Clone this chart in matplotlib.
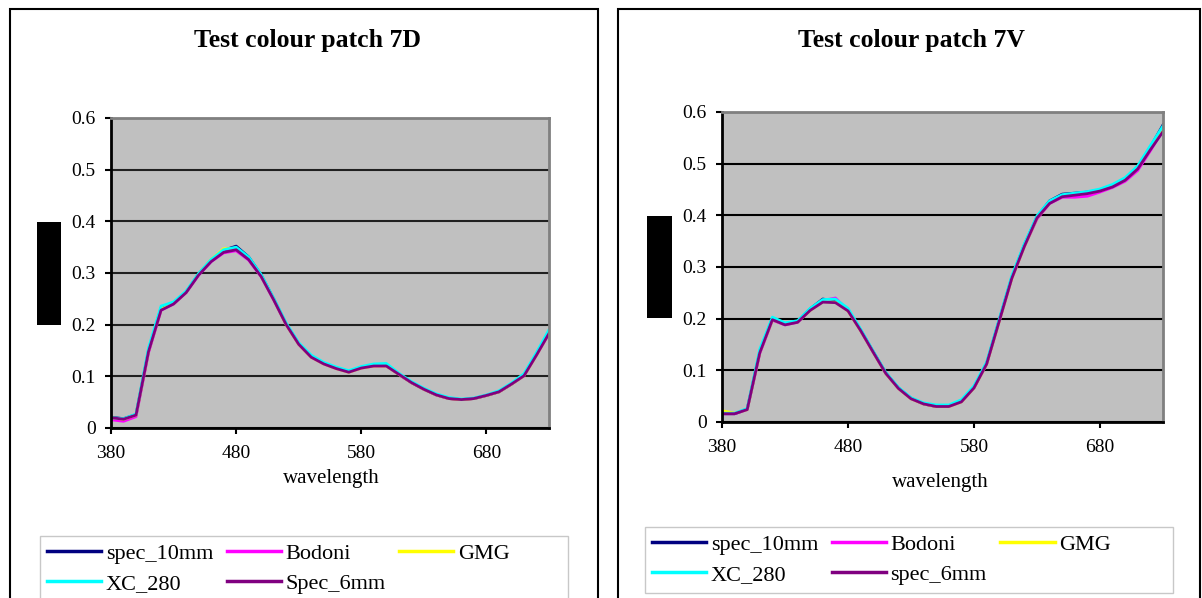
import matplotlib
matplotlib.use("Agg")
import matplotlib.pyplot as plt
from matplotlib.patches import Rectangle

plt.rcParams['font.family'] = ['Liberation Serif', 'DejaVu Serif']

# wavelength categories (nm)
wavelength = list(range(380, 731, 10))
xticks = [380, 480, 580, 680]
yticks = [0, 0.1, 0.2, 0.3, 0.4, 0.5, 0.6]

series_names = ["spec_10mm", "Bodoni", "GMG", "XC_280", "Spec_6mm"]
series_colors = ["#000080", "#FF00FF", "#FFFF00", "#00FFFF", "#800080"]

# --- Test colour patch 7D ---
d_spec10 = [0.021, 0.018, 0.026, 0.150, 0.232, 0.242, 0.263, 0.298, 0.325, 0.344, 0.352, 0.331,
            0.296, 0.250, 0.201, 0.163, 0.138, 0.125, 0.116, 0.109, 0.117, 0.121, 0.121, 0.104,
            0.088, 0.075, 0.064, 0.057, 0.055, 0.057, 0.063, 0.070, 0.085, 0.102, 0.143, 0.186]
d_bodoni = [0.016, 0.013, 0.022, 0.146, 0.228, 0.240, 0.262, 0.296, 0.322, 0.339, 0.343, 0.325,
            0.293, 0.248, 0.200, 0.162, 0.137, 0.124, 0.115, 0.108, 0.116, 0.120, 0.120, 0.104,
            0.088, 0.075, 0.064, 0.057, 0.055, 0.057, 0.063, 0.070, 0.085, 0.101, 0.141, 0.183]
d_gmg = [0.020, 0.017, 0.025, 0.149, 0.230, 0.241, 0.263, 0.298, 0.326, 0.347, 0.348, 0.328,
         0.294, 0.249, 0.200, 0.162, 0.137, 0.124, 0.115, 0.108, 0.116, 0.120, 0.120, 0.104,
         0.088, 0.075, 0.064, 0.057, 0.055, 0.057, 0.063, 0.070, 0.085, 0.101, 0.141, 0.184]
d_xc280 = [0.020, 0.018, 0.027, 0.155, 0.236, 0.244, 0.265, 0.299, 0.326, 0.345, 0.350, 0.331,
           0.297, 0.251, 0.203, 0.165, 0.141, 0.127, 0.118, 0.111, 0.119, 0.124, 0.125, 0.106,
           0.090, 0.077, 0.066, 0.059, 0.056, 0.058, 0.064, 0.072, 0.087, 0.105, 0.146, 0.190]
d_spec6 = [0.020, 0.017, 0.025, 0.148, 0.228, 0.240, 0.262, 0.296, 0.322, 0.340, 0.345, 0.326,
           0.293, 0.248, 0.200, 0.162, 0.137, 0.124, 0.115, 0.108, 0.116, 0.120, 0.120, 0.104,
           0.088, 0.075, 0.064, 0.057, 0.055, 0.057, 0.063, 0.070, 0.085, 0.101, 0.141, 0.183]

# --- Test colour patch 7V ---
v_spec10 = [0.016, 0.016, 0.025, 0.136, 0.200, 0.190, 0.195, 0.219, 0.238, 0.234, 0.217, 0.178,
            0.136, 0.095, 0.066, 0.046, 0.035, 0.030, 0.031, 0.040, 0.067, 0.113, 0.197, 0.280,
            0.343, 0.397, 0.428, 0.441, 0.443, 0.445, 0.449, 0.457, 0.470, 0.493, 0.532, 0.575]
v_bodoni = [0.016, 0.016, 0.024, 0.133, 0.197, 0.188, 0.193, 0.217, 0.235, 0.240, 0.216, 0.177,
            0.135, 0.094, 0.065, 0.045, 0.035, 0.030, 0.030, 0.039, 0.066, 0.112, 0.195, 0.278,
            0.340, 0.393, 0.423, 0.435, 0.435, 0.437, 0.445, 0.454, 0.466, 0.487, 0.525, 0.565]
v_gmg = [0.022, 0.017, 0.024, 0.135, 0.198, 0.189, 0.194, 0.216, 0.233, 0.232, 0.215, 0.177,
         0.135, 0.094, 0.065, 0.045, 0.035, 0.030, 0.030, 0.039, 0.066, 0.112, 0.195, 0.278,
         0.340, 0.395, 0.424, 0.437, 0.440, 0.443, 0.448, 0.456, 0.469, 0.491, 0.529, 0.568]
v_xc280 = [0.017, 0.017, 0.026, 0.141, 0.203, 0.192, 0.196, 0.220, 0.237, 0.238, 0.220, 0.180,
           0.137, 0.096, 0.067, 0.047, 0.037, 0.033, 0.033, 0.043, 0.070, 0.116, 0.199, 0.283,
           0.345, 0.399, 0.428, 0.440, 0.443, 0.446, 0.451, 0.460, 0.473, 0.496, 0.535, 0.573]
v_spec6 = [0.016, 0.016, 0.024, 0.134, 0.198, 0.188, 0.193, 0.216, 0.232, 0.231, 0.215, 0.177,
           0.135, 0.094, 0.065, 0.045, 0.035, 0.030, 0.030, 0.039, 0.066, 0.112, 0.195, 0.278,
           0.340, 0.395, 0.423, 0.436, 0.439, 0.442, 0.447, 0.455, 0.468, 0.490, 0.527, 0.562]

W, H = 1202, 598


def px_box(x0, y0, x1, y1):
    # pixel box (top-left origin) -> figure fraction rect
    return [x0 / W, 1 - y1 / H, (x1 - x0) / W, (y1 - y0) / H]


fig = plt.figure(figsize=(W / 100, H / 100), dpi=100)
fig.patch.set_facecolor("white")

panels = [
    dict(title="Test colour patch 7D", data=[d_spec10, d_bodoni, d_gmg, d_xc280, d_spec6],
         names=["spec_10mm", "Bodoni", "GMG", "XC_280", "Spec_6mm"],
         frame=(10, 9, 598, 640), plot=(111, 118, 549, 428), box=(36.5, 222, 61.5, 325),
         title_xy=(307, 40), xlab_xy=(331, 478), leg=(40, 536, 568, 640), leg_top=543,
         grid="#202020"),
    dict(title="Test colour patch 7V", data=[v_spec10, v_bodoni, v_gmg, v_xc280, v_spec6],
         names=["spec_10mm", "Bodoni", "GMG", "XC_280", "spec_6mm"],
         frame=(618, 9, 1200, 640), plot=(722, 112, 1163, 422), box=(647, 216, 672, 318),
         title_xy=(911, 40), xlab_xy=(940, 482), leg=(645, 527, 1173, 593), leg_top=534,
         grid="black"),
]

for p in panels:
    # outer chart border
    fb = px_box(*p["frame"])
    fig.add_artist(Rectangle(fb[:2], fb[2], fb[3], transform=fig.transFigure,
                             fill=False, edgecolor="black", lw=1.5))
    # black box where the y-axis label was
    b = px_box(*p["box"])
    fig.add_artist(Rectangle(b[:2], b[2], b[3], transform=fig.transFigure,
                             facecolor="black", edgecolor="none"))

    ax = fig.add_axes(px_box(*p["plot"]))
    ax.set_facecolor("#C0C0C0")
    lines = []
    for vals, name, col in zip(p["data"], p["names"], series_colors):
        ln, = ax.plot(wavelength, vals, color=col, lw=2, label=name, solid_joinstyle="round")
        lines.append(ln)

    ax.set_xlim(380, 730)
    ax.set_ylim(0, 0.6)
    ax.set_xticks(xticks)
    ax.set_yticks(yticks)
    ax.set_yticklabels(["0", "0.1", "0.2", "0.3", "0.4", "0.5", "0.6"])
    ax.tick_params(axis="both", labelsize=14, direction="out", length=4, width=1.5, color="black")
    ax.tick_params(axis="x", pad=8)
    ax.tick_params(axis="y", pad=7)
    ax.yaxis.grid(True, color=p["grid"], lw=1.5)
    ax.set_axisbelow(True)
    for s in ["left", "bottom"]:
        ax.spines[s].set_color("black")
        ax.spines[s].set_linewidth(2)
    for s in ["top", "right"]:
        ax.spines[s].set_color("#808080")
        ax.spines[s].set_linewidth(2)

    fig.text(p["title_xy"][0] / W, 1 - p["title_xy"][1] / H, p["title"],
             ha="center", va="center", fontsize=18.5, fontweight="bold")
    fig.text(p["xlab_xy"][0] / W, 1 - p["xlab_xy"][1] / H, "wavelength",
             ha="center", va="center", fontsize=15)

    # legend frame + legend (row-major order like the original)
    lb = px_box(*p["leg"])
    fig.add_artist(Rectangle(lb[:2], lb[2], lb[3], transform=fig.transFigure,
                             fill=False, edgecolor="#c8c8c8", lw=1))
    order = [0, 3, 1, 4, 2]
    leg = fig.legend([lines[i] for i in order], [p["names"][i] for i in order],
                     loc="upper left", bbox_to_anchor=((p["leg"][0] + 7) / W, 1 - p["leg_top"] / H),
                     ncol=3, frameon=False, fontsize=16, handlelength=2.45, handletextpad=0.2,
                     columnspacing=0.6, labelspacing=0.45, borderpad=0, borderaxespad=0)
    for h in leg.legend_handles:
        h.set_linewidth(2.5)

fig.savefig("out.png", dpi=100)
